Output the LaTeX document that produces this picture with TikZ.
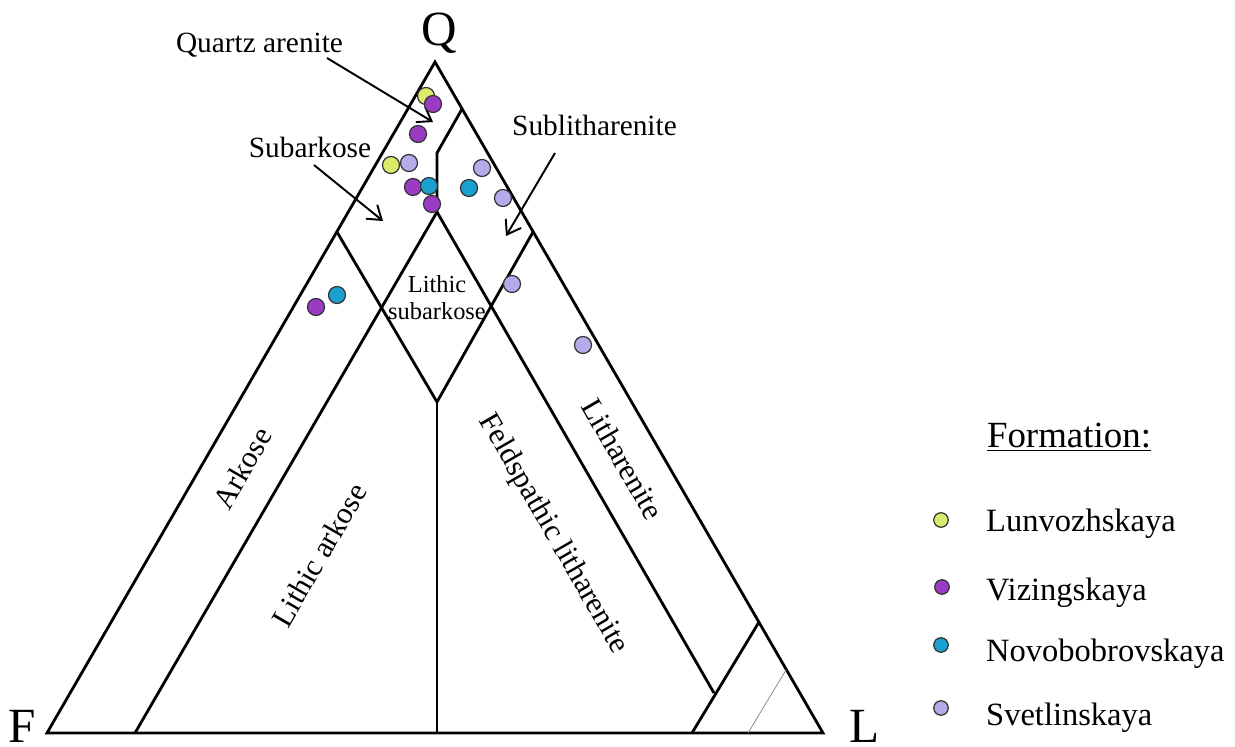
\documentclass[tikz,border=0pt]{standalone}
\usepackage{fontspec}
\setmainfont{Liberation Serif}
\usetikzlibrary{arrows.meta}

\definecolor{lunv}{HTML}{DDEB6A}
\definecolor{vizi}{HTML}{9B3BC4}
\definecolor{novo}{HTML}{1A9FCF}
\definecolor{svet}{HTML}{B3ABEA}

\begin{document}
\begin{tikzpicture}[x=0.02cm, y=-0.02cm,
  edge/.style={line width=1.6pt, line join=miter},
  pointer/.style={line width=1.1pt, -{Straight Barb[length=2.6mm, width=3.6mm]}},
  dot/.style={circle, draw=black!80, line width=0.7pt, minimum size=0.34cm, inner sep=0pt},
  key/.style={circle, draw=black!80, line width=0.7pt, minimum size=0.29cm, inner sep=0pt},
  corner/.style={font=\fontsize{28}{30}\selectfont, anchor=base, inner sep=0pt},
  field/.style={font=\fontsize{16.7}{19}\selectfont, anchor=base},
  zone/.style={font=\fontsize{17.3}{20}\selectfont, inner sep=1pt},
  entry/.style={font=\fontsize{18.5}{21}\selectfont, anchor=base west}]

  \useasboundingbox (0,0) rectangle (1235,747);

  % vertices
  \coordinate (vQ) at (435,62);
  \coordinate (vF) at (47,733);
  \coordinate (vL) at (823,733);
  \coordinate (qa1) at (462,109);
  \coordinate (qa2) at (437,153);
  \coordinate (top) at (437,212);
  \coordinate (sL) at (337,232);
  \coordinate (sR) at (533,232);
  \coordinate (bot) at (437,402);
  \coordinate (arkB) at (135,733);
  \coordinate (midB) at (437,733);
  \coordinate (lit) at (714,693);
  \coordinate (st1) at (759,622);
  \coordinate (st2) at (692,733);
  \coordinate (th1) at (786,670);
  \coordinate (th2) at (748,733);

  % names of vertices
  \node[corner] (lQ) at (439,46) {Q};
  \node[corner] (lF) at (22,742) {F};
  \node[corner] (lL) at (865,742) {L};

  % fields
  \draw[edge] (vF) -- (vQ) -- (vL) -- cycle;
  \draw[edge] (qa1) -- (qa2) -- (top);
  \draw[edge] (top) -- (arkB);
  \draw[edge] (top) -- (lit);
  \draw[edge] (sL) -- (bot) -- (sR);
  \draw[edge] (bot) -- (midB);
  \draw[edge] (st1) -- (st2);
  \draw[gray, line width=0.4pt] (th1) -- (th2);

  % names of fields
  \node[zone, rotate=60] (ark) at (242,468) {Arkose};
  \node[zone, rotate=60] (lark) at (319,555) {Lithic arkose};
  \node[zone, rotate=-60] (flit) at (553,534) {Feldspathic litharenite};
  \node[zone, rotate=-60] (litn) at (623,459) {Litharenite};
  \node[font=\fontsize{13.9}{15.5}\selectfont, align=center] (lsub) at (437,298) {Lithic\\subarkose};

  \node[field] (lqa) at (259.5,52) {Quartz arenite};
  \node[field] (lsa) at (310,157) {Subarkose};
  \node[field] (lsl) at (594.5,135) {Sublitharenite};
  \coordinate (qaT) at (327,58);
  \coordinate (qaH) at (433,122);
  \coordinate (saT) at (314,165);
  \coordinate (saH) at (383,221);
  \coordinate (slT) at (555,153);
  \coordinate (slH) at (506,236);
  \draw[pointer] (qaT) -- (qaH);
  \draw[pointer] (saT) -- (saH);
  \draw[pointer] (slT) -- (slH);

  % samples
  \node[dot, fill=lunv] (lu1) at (426,96) {};
  \node[dot, fill=lunv] (lu2) at (391,165) {};
  \node[dot, fill=svet] (sv1) at (409,163) {};
  \node[dot, fill=svet] (sv2) at (482,168) {};
  \node[dot, fill=svet] (sv3) at (503,198) {};
  \node[dot, fill=svet] (sv4) at (512,284) {};
  \node[dot, fill=svet] (sv5) at (583,345) {};
  \node[dot, fill=vizi] (vi1) at (433,104) {};
  \node[dot, fill=vizi] (vi2) at (418,134) {};
  \node[dot, fill=vizi] (vi3) at (413,187) {};
  \node[dot, fill=vizi] (vi4) at (432,204) {};
  \node[dot, fill=vizi] (vi5) at (316,307) {};
  \node[dot, fill=novo] (no1) at (429,186) {};
  \node[dot, fill=novo] (no2) at (469,188) {};
  \node[dot, fill=novo] (no3) at (337,295) {};

  % legend
  \node[font=\fontsize{21}{24}\selectfont, anchor=base] (form) at (1069,447) {\underline{Formation:}};
  \node[key, fill=lunv] (k1) at (941,520) {};
  \node[key, fill=vizi] (k2) at (942,587) {};
  \node[key, fill=novo] (k3) at (941,645) {};
  \node[key, fill=svet] (k4) at (941,708) {};
  \node[entry] (e1) at (980,531) {Lunvozhskaya};
  \node[entry] (e2) at (980,600) {Vizingskaya};
  \node[entry] (e3) at (980,661) {Novobobrovskaya};
  \node[entry] (e4) at (980,725) {Svetlinskaya};

\end{tikzpicture}
\end{document}
